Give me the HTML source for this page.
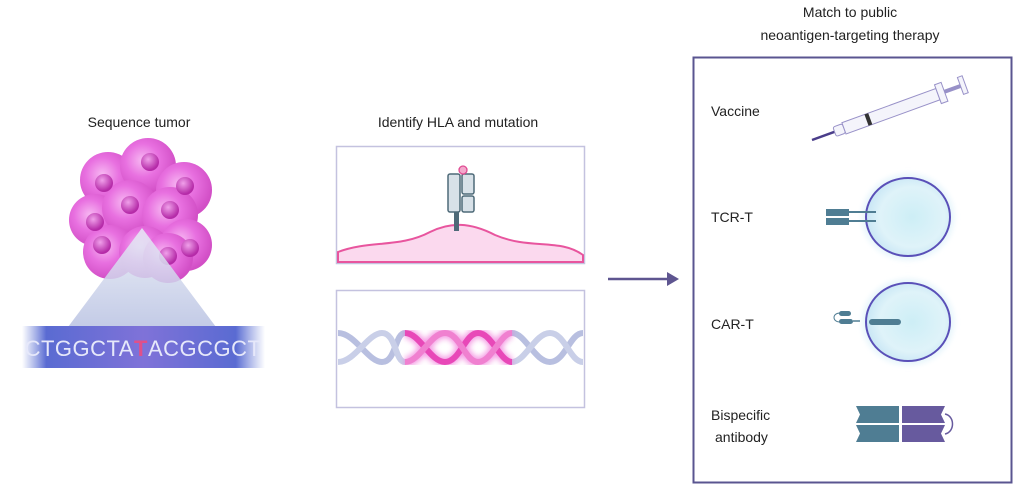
<!DOCTYPE html>
<html><head><meta charset="utf-8"><style>
html,body{margin:0;padding:0;background:#fff;}
svg{display:block;font-family:"Liberation Sans",sans-serif;}
</style></head><body>
<svg width="1023" height="485" viewBox="0 0 1023 485" xmlns="http://www.w3.org/2000/svg">
<defs>
<radialGradient id="cell" cx="0.4" cy="0.4" r="0.6">
<stop offset="0" stop-color="#f7b8f2"/><stop offset="0.5" stop-color="#e870e0"/><stop offset="1" stop-color="#d24fc6"/>
</radialGradient>
<radialGradient id="nuc" cx="0.4" cy="0.35" r="0.6">
<stop offset="0" stop-color="#f0a0ea"/><stop offset="1" stop-color="#b52ba8"/>
</radialGradient>
<linearGradient id="tri" x1="0" y1="0" x2="0" y2="1">
<stop offset="0" stop-color="#e8ecf6"/><stop offset="1" stop-color="#b9c2e2"/>
</linearGradient>
<linearGradient id="band" x1="0" y1="0" x2="1" y2="0">
<stop offset="0" stop-color="#6a7fd8" stop-opacity="0"/><stop offset="0.1" stop-color="#5a6bd2"/><stop offset="0.5" stop-color="#7f72d8"/><stop offset="0.88" stop-color="#5a6bd2"/><stop offset="1" stop-color="#6a7fd8" stop-opacity="0"/>
</linearGradient>
<radialGradient id="tcell" cx="0.55" cy="0.5" r="0.55">
<stop offset="0" stop-color="#cdeef6"/><stop offset="0.7" stop-color="#dff3f9"/><stop offset="1" stop-color="#c8e6f5"/>
</radialGradient>
<filter id="glow"><feGaussianBlur stdDeviation="3"/></filter>
</defs>

<!-- Left -->
<text x="139" y="127" font-size="14" text-anchor="middle" fill="#222">Sequence tumor</text>
<g>
<circle cx="108" cy="180" r="28" fill="url(#cell)"/>
<circle cx="148" cy="166" r="28" fill="url(#cell)"/>
<circle cx="184" cy="190" r="28" fill="url(#cell)"/>
<circle cx="95" cy="220" r="26" fill="url(#cell)"/>
<circle cx="130" cy="208" r="28" fill="url(#cell)"/>
<circle cx="170" cy="215" r="28" fill="url(#cell)"/>
<circle cx="186" cy="245" r="26" fill="url(#cell)"/>
<circle cx="110" cy="252" r="27" fill="url(#cell)"/>
<circle cx="145" cy="252" r="26" fill="url(#cell)"/>
<circle cx="168" cy="258" r="25" fill="url(#cell)"/>
<circle cx="104" cy="183" r="9" fill="url(#nuc)"/>
<circle cx="150" cy="162" r="9" fill="url(#nuc)"/>
<circle cx="185" cy="186" r="9" fill="url(#nuc)"/>
<circle cx="130" cy="205" r="9" fill="url(#nuc)"/>
<circle cx="170" cy="210" r="9" fill="url(#nuc)"/>
<circle cx="95" cy="222" r="9" fill="url(#nuc)"/>
<circle cx="190" cy="248" r="9" fill="url(#nuc)"/>
<circle cx="102" cy="245" r="9" fill="url(#nuc)"/>
<circle cx="168" cy="256" r="9" fill="url(#nuc)"/>
</g>
<polygon points="142,228 68,327 216,327" fill="url(#tri)" opacity="0.85"/>
<rect x="22" y="326" width="243" height="42" fill="url(#band)"/>
<text x="143" y="356" font-size="22" fill="#e6e8fa" text-anchor="middle" letter-spacing="0.5">CTGGCTA<tspan fill="#e0508a" font-weight="bold">T</tspan>ACGCGCT</text>

<!-- Middle -->
<text x="458" y="127" font-size="14" text-anchor="middle" fill="#222">Identify HLA and mutation</text>
<rect x="336.5" y="146.5" width="248" height="117" fill="#fff" stroke="#c4c2df" stroke-width="1.5"/>
<path d="M338,252 C370,240 400,248 430,232 C450,222 470,222 495,235 C530,250 560,238 583,255 L583,262 L338,262 Z" fill="#fbd9ee" stroke="#e8559e" stroke-width="2"/>
<rect x="454" y="211" width="5" height="20" fill="#4e6a78"/>
<rect x="448" y="174" width="12" height="38" rx="2" fill="#d8e1e8" stroke="#4e6a78" stroke-width="1.5"/>
<rect x="462" y="174" width="12" height="20" rx="2" fill="#d8e1e8" stroke="#4e6a78" stroke-width="1.5"/>
<rect x="462" y="196" width="12" height="16" rx="2" fill="#d8e1e8" stroke="#4e6a78" stroke-width="1.5"/>
<circle cx="463" cy="170" r="4" fill="#f3a8cc" stroke="#e04a92" stroke-width="1.3"/>

<rect x="336.5" y="290.5" width="248" height="117" fill="#fff" stroke="#c4c2df" stroke-width="1.5"/>
<g fill="none" stroke-width="6">
<path d="M338,333 C355,333 368,362 382,362 C396,362 395,333 405,333" stroke="#b8bfe0"/>
<path d="M338,362 C355,362 368,333 382,333 C396,333 395,362 405,362" stroke="#c9cfe8"/>
<path d="M512,333 C525,333 535,362 550,362 C565,362 570,333 583,333" stroke="#b8bfe0"/>
<path d="M512,362 C525,362 535,333 550,333 C565,333 570,362 583,362" stroke="#c9cfe8"/>
<g filter="url(#glow)" stroke="#f070d8" stroke-width="10" opacity="0.7">
<path d="M405,333 C420,333 430,362 445,362 C460,362 465,333 478,333 C492,333 500,362 512,362"/>
<path d="M405,362 C420,362 430,333 445,333 C460,333 465,362 478,362 C492,362 500,333 512,333"/>
</g>
<path d="M405,333 C420,333 430,362 445,362 C460,362 465,333 478,333 C492,333 500,362 512,362" stroke="#e848b8"/>
<path d="M405,362 C420,362 430,333 445,333 C460,333 465,362 478,362 C492,362 500,333 512,333" stroke="#f080d0"/>
</g>

<!-- Arrow -->
<line x1="608" y1="279" x2="670" y2="279" stroke="#5e5590" stroke-width="2.5"/>
<polygon points="679,279 667,272 667,286" fill="#5e5590"/>

<!-- Right -->
<text x="850" y="17" font-size="14" text-anchor="middle" fill="#222">Match to public</text>
<text x="850" y="40" font-size="14" text-anchor="middle" fill="#222">neoantigen-targeting therapy</text>
<rect x="693.5" y="57.5" width="318" height="425" fill="#fff" stroke="#5a5590" stroke-width="2"/>

<text x="711" y="116" font-size="14" fill="#222">Vaccine</text>
<g transform="translate(812,140) rotate(-20)">
<line x1="0" y1="0" x2="24" y2="0" stroke="#4a3d8a" stroke-width="2.5"/>
<rect x="24" y="-5" width="10" height="10" rx="2" fill="#f4f4fb" stroke="#9891c8"/>
<rect x="34" y="-6" width="100" height="12" fill="#f4f4fb" stroke="#9891c8"/>
<rect x="58" y="-6" width="4" height="12" fill="#333"/>
<rect x="134" y="-10" width="7" height="20" fill="#f4f4fb" stroke="#9891c8"/>
<line x1="141" y1="0" x2="158" y2="0" stroke="#9891c8" stroke-width="4"/>
<rect x="158" y="-9" width="5" height="18" fill="#f4f4fb" stroke="#9891c8"/>
</g>

<text x="711" y="222" font-size="14" fill="#222">TCR-T</text>
<ellipse cx="908" cy="217" rx="46" ry="43" fill="#e6f5fb" filter="url(#glow)"/>
<ellipse cx="908" cy="217" rx="42" ry="39" fill="url(#tcell)" stroke="#5a50b8" stroke-width="2"/>
<rect x="826" y="209" width="23" height="7" fill="#4f7d93"/>
<rect x="826" y="218" width="23" height="7" fill="#4f7d93"/>
<line x1="849" y1="212" x2="876" y2="212" stroke="#4f7d93" stroke-width="2"/>
<line x1="849" y1="221" x2="876" y2="221" stroke="#4f7d93" stroke-width="2"/>

<text x="711" y="329" font-size="14" fill="#222">CAR-T</text>
<ellipse cx="908" cy="322" rx="46" ry="43" fill="#e6f5fb" filter="url(#glow)"/>
<ellipse cx="908" cy="322" rx="42" ry="39" fill="url(#tcell)" stroke="#5a50b8" stroke-width="2"/>
<rect x="839" y="311" width="12" height="5" rx="2.5" fill="#4f7d93"/>
<rect x="839" y="319" width="14" height="5" rx="2.5" fill="#4f7d93"/>
<path d="M840,313 C832,313 832,322 840,322" fill="none" stroke="#4f7d93"/>
<line x1="853" y1="321" x2="860" y2="321" stroke="#4f7d93" stroke-width="1.5"/>
<rect x="869" y="319" width="32" height="6" rx="3" fill="#4f7d93"/>

<text x="711" y="420" font-size="14" fill="#222">Bispecific</text>
<text x="715" y="442" font-size="14" fill="#222">antibody</text>
<path d="M856,406 h43 v17 h-43 l4,-8.5 z" fill="#4f7d93"/>
<path d="M856,425 h43 v17 h-43 l4,-8.5 z" fill="#4f7d93"/>
<path d="M902,406 h43 l-4,8.5 l4,8.5 h-43 z" fill="#675a9e"/>
<path d="M902,425 h43 l-4,8.5 l4,8.5 h-43 z" fill="#675a9e"/>
<path d="M945,414 C955,416 955,432 945,434" fill="none" stroke="#675a9e" stroke-width="1.5"/>
</svg>
</body></html>
